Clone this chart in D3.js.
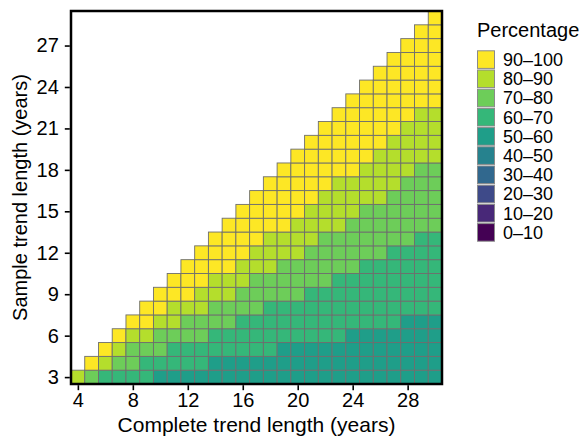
<!DOCTYPE html>
<html>
<head>
<meta charset="utf-8">
<script src="https://cdn.jsdelivr.net/npm/d3@7"></script>
<style>
  body { margin: 0; background: #fff; }
  text { font-family: "Liberation Sans", Arial, Helvetica, sans-serif; fill: #000; }
</style>
</head>
<body>
<svg id="chart" width="581" height="438"></svg>
<script>
// sample trend lengths (rows, years) and complete trend lengths (columns, years)
const sampleLengths = [3, 4, 5, 6, 7, 8, 9, 10, 11, 12, 13, 14, 15, 16, 17, 18, 19, 20, 21, 22, 23, 24, 25, 26, 27, 28, 29];
const completeMax = 30;
const xTicks = [4, 8, 12, 16, 20, 24, 28];
const yTicks = [3, 6, 9, 12, 15, 18, 21, 24, 27];

// percentage bins, lowest first
const binLabels = ["0–10", "10–20", "20–30", "30–40", "40–50", "50–60", "60–70", "70–80", "80–90", "90–100"];

// per sample length: runs of [bin index, number of cells], starting at complete length = sample + 1
const binRuns = [
  [[8, 1], [7, 1], [6, 4], [5, 21]],          // 3
  [[9, 1], [8, 1], [7, 2], [6, 5], [5, 17]],  // 4
  [[9, 1], [8, 1], [7, 3], [6, 8], [5, 12]],  // 5
  [[9, 1], [8, 2], [7, 4], [6, 10], [5, 7]],  // 6
  [[9, 2], [8, 2], [7, 4], [6, 12], [5, 3]],  // 7
  [[9, 2], [8, 3], [7, 4], [6, 13]],          // 8
  [[9, 3], [8, 3], [7, 5], [6, 10]],          // 9
  [[9, 3], [8, 3], [7, 6], [6, 8]],           // 10
  [[9, 4], [8, 3], [7, 6], [6, 6]],           // 11
  [[9, 4], [8, 4], [7, 6], [6, 4]],           // 12
  [[9, 4], [8, 4], [7, 7], [6, 2]],           // 13
  [[9, 5], [8, 4], [7, 7]],                   // 14
  [[9, 5], [8, 4], [7, 6]],                   // 15
  [[9, 5], [8, 5], [7, 4]],                   // 16
  [[9, 5], [8, 5], [7, 3]],                   // 17
  [[9, 6], [8, 4], [7, 2]],                   // 18
  [[9, 6], [8, 5]],                           // 19
  [[9, 6], [8, 4]],                           // 20
  [[9, 6], [8, 3]],                           // 21
  [[9, 6], [8, 2]],                           // 22
  [[9, 7]],                                   // 23
  [[9, 6]],                                   // 24
  [[9, 5]],                                   // 25
  [[9, 4]],                                   // 26
  [[9, 3]],                                   // 27
  [[9, 2]],                                   // 28
  [[9, 1]]                                    // 29
];

// expand runs into cells
const cells = [];
sampleLengths.forEach((s, i) => {
  let c = s + 1;
  binRuns[i].forEach(([b, n]) => {
    for (let k = 0; k < n; k++) cells.push({ complete: c++, sample: s, bin: binLabels[b] });
  });
});

const svg = d3.select("#chart");
const panelLeft = 71, panelRight = 442, panelTop = 11, panelBottom = 384;

const x = d3.scaleLinear().domain([3.5, completeMax + 0.5]).range([panelLeft, panelRight]);
const y = d3.scaleLinear().domain([2.5, 29.5]).range([panelBottom, panelTop]);
const fill = d3.scaleOrdinal()
  .domain(binLabels)
  .range(["#440154", "#482878", "#3E4A89", "#31688E", "#26828E", "#1F9E89", "#35B779", "#6DCD59", "#B4DE2C", "#FDE725"]);

// tiles
svg.append("g").selectAll("rect")
  .data(cells)
  .enter().append("rect")
  .attr("x", d => x(d.complete - 0.5))
  .attr("y", d => y(d.sample + 0.5))
  .attr("width", x(1) - x(0))
  .attr("height", y(0) - y(1))
  .attr("fill", d => fill(d.bin))
  .attr("stroke", "#6e6e6e")
  .attr("stroke-width", 0.9);

// panel border
svg.append("rect")
  .attr("x", panelLeft).attr("y", panelTop)
  .attr("width", panelRight - panelLeft).attr("height", panelBottom - panelTop)
  .attr("fill", "none").attr("stroke", "#000").attr("stroke-width", 2.5);

// axes
const xAxis = svg.append("g")
  .attr("transform", `translate(0,${panelBottom + 1.2})`)
  .call(d3.axisBottom(x).tickValues(xTicks).tickSize(5).tickSizeOuter(0).tickPadding(3));
const yAxis = svg.append("g")
  .attr("transform", `translate(${panelLeft - 1.2},0)`)
  .call(d3.axisLeft(y).tickValues(yTicks).tickSize(5).tickSizeOuter(0).tickPadding(6));

[xAxis, yAxis].forEach(g => {
  g.select(".domain").remove();
  g.selectAll(".tick line").attr("stroke", "#000").attr("stroke-width", 1.6);
  g.selectAll(".tick text").attr("font-size", 20).attr("font-family", "Liberation Sans, Arial, sans-serif").attr("fill", "#000");
});

// axis titles
svg.append("text")
  .attr("x", (panelLeft + panelRight) / 2).attr("y", 432)
  .attr("text-anchor", "middle").attr("font-size", 21)
  .text("Complete trend length (years)");
svg.append("text")
  .attr("transform", `translate(27,${(panelTop + panelBottom) / 2}) rotate(-90)`)
  .attr("text-anchor", "middle").attr("font-size", 20)
  .text("Sample trend length (years)");

// legend
const legend = svg.append("g");
legend.append("text")
  .attr("x", 477).attr("y", 37)
  .attr("font-size", 20)
  .text("Percentage");

const keyH = 19.2;
const keys = legend.selectAll("g.key")
  .data(binLabels.slice().reverse())
  .enter().append("g")
  .attr("class", "key")
  .attr("transform", (d, i) => `translate(477,${50 + i * keyH})`);
keys.append("rect")
  .attr("x", 0.5).attr("y", 0.8)
  .attr("width", 17).attr("height", keyH - 1.6)
  .attr("fill", d => fill(d))
  .attr("stroke", "#8a8a8a").attr("stroke-width", 1);
keys.append("text")
  .attr("x", 26).attr("y", keyH / 2)
  .attr("dy", "0.36em")
  .attr("font-size", 18)
  .text(d => d);
</script>
</body>
</html>
